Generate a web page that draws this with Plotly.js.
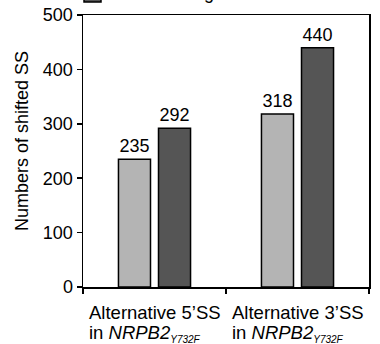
<!DOCTYPE html>
<html>
<head>
<meta charset="utf-8">
<script src="https://cdn.plot.ly/plotly-3.0.1.min.js"></script>
<style>html,body{margin:0;padding:0;background:#fff;}#chart{width:380px;height:344px;}</style>
</head>
<body>
<div id="chart"></div>
<script>
var categories = ["5SS", "3SS"];
var labelLine1 = ["Alternative 5\u2019SS", "Alternative 3\u2019SS"];
var labelLine2 = ["in <i>NRPB2</i><sub><span style='font-size:10px'><i>Y732F</i></span></sub>",
                  "in <i>NRPB2</i><sub><span style='font-size:10px'><i>Y732F</i></span></sub>"];
var seriesNames = ["Proximal shifting", "Distal shifting"];
var seriesColors = ["#b4b4b4", "#555555"];
var lightValues = [235, 318];
var darkValues = [292, 440];
var yTicks = [0, 100, 200, 300, 400, 500];
var yTitle = "Numbers of shifted SS";

var FONT = "Liberation Sans, Arial, sans-serif";
var lineStyle = {color: "#000", width: 1.5};

var traces = [
  {type: "bar", name: seriesNames[0], x: categories, y: lightValues,
   marker: {color: seriesColors[0], line: lineStyle},
   text: lightValues.map(String), textposition: "outside", cliponaxis: false,
   textfont: {family: FONT, size: 18, color: "#000"}},
  {type: "bar", name: seriesNames[1], x: categories, y: darkValues,
   marker: {color: seriesColors[1], line: lineStyle},
   text: darkValues.map(String), textposition: "outside", cliponaxis: false,
   textfont: {family: FONT, size: 18, color: "#000"}}
];

// plot area geometry (pixels) used for placement in paper coordinates
var PL = 83, PT = 15, PW = 286, PH = 272;
function px(x) { return (x - PL) / PW; }
function py(y) { return (PT + PH - y) / PH; }

var txtFont = {family: FONT, size: 18.5, color: "#000"};
var annotations = [];
categories.forEach(function (c, i) {
  annotations.push({x: c, xref: "x", xanchor: "center", y: 0, yref: "paper", yanchor: "top",
                    yshift: -13, text: labelLine1[i], showarrow: false, font: txtFont});
  annotations.push({x: c, xref: "x", xanchor: "left", xshift: -68, y: 0, yref: "paper",
                    yanchor: "top", yshift: -33, text: labelLine2[i], showarrow: false,
                    font: txtFont});
});
// y axis title, placed as in the reference (slightly above the plot's middle)
annotations.push({x: px(21.5), xref: "paper", xanchor: "center", y: py(141.5), yref: "paper",
                  yanchor: "middle", textangle: -90, text: yTitle, showarrow: false,
                  font: {family: FONT, size: 18, color: "#000"}});
// legend (only the lower entry's bottom edge is visible, as in the reference)
annotations.push({x: px(105), xref: "paper", xanchor: "left", y: py(5), yref: "paper",
                  yanchor: "bottom", text: seriesNames[1], showarrow: false,
                  font: {family: FONT, size: 18, color: "#000"}});

var shapes = [{type: "rect", xref: "paper", yref: "paper",
               x0: px(84), x1: px(101), y0: py(2), y1: py(-14),
               fillcolor: seriesColors[1], line: {color: "#000", width: 1.5}}];

var layout = {
  width: 380, height: 344,
  margin: {l: PL, r: 380 - PL - PW, t: PT, b: 344 - PT - PH},
  paper_bgcolor: "#fff", plot_bgcolor: "#fff",
  font: {family: FONT, size: 18, color: "#000"},
  barmode: "group", bargap: 0.44, bargroupgap: 0.2,
  showlegend: false,
  xaxis: {showticklabels: false, ticks: "outside", tickson: "boundaries", ticklen: 5,
          tickwidth: 1.5, tickcolor: "#000", showline: true, linecolor: "#000",
          linewidth: 1.5, mirror: true, showgrid: false, fixedrange: true},
  yaxis: {range: [0, 500], tickvals: yTicks, ticks: "outside", ticklen: 5, tickwidth: 1.5,
          tickcolor: "#000", showline: true, linecolor: "#000", linewidth: 1.5,
          mirror: true, showgrid: false, zeroline: false,
          tickfont: {family: FONT, size: 18, color: "#000"}},
  annotations: annotations,
  shapes: shapes
};

Plotly.newPlot("chart", traces, layout, {displayModeBar: false, staticPlot: true});
</script>
</body>
</html>
